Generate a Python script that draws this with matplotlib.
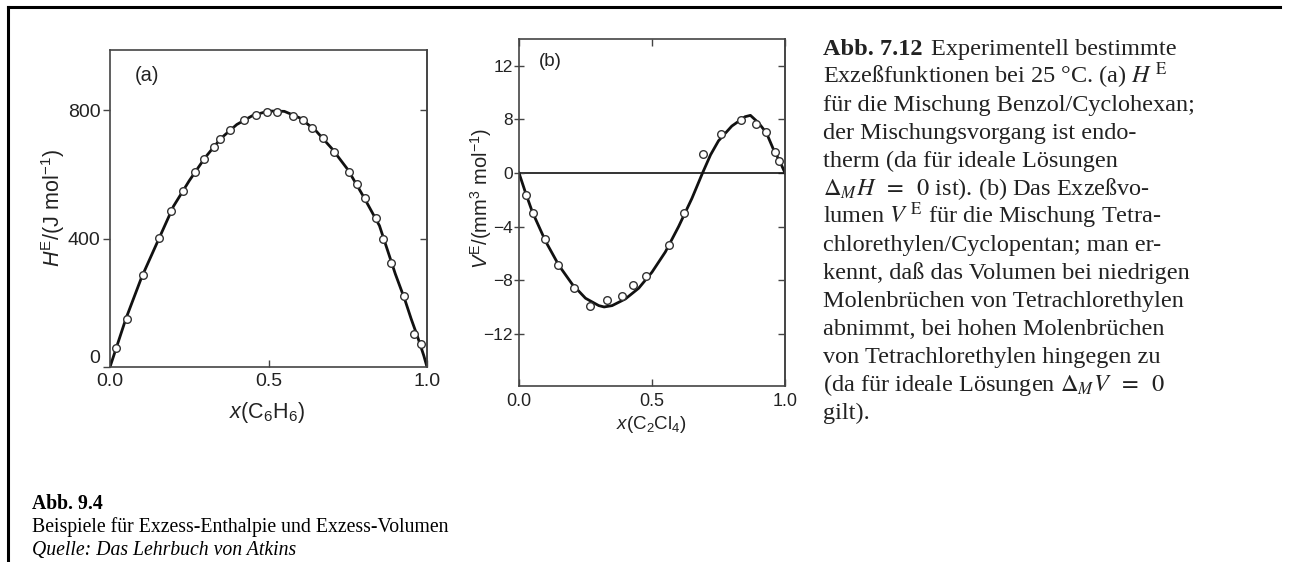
import numpy as np
import matplotlib
matplotlib.use("Agg")
import matplotlib.pyplot as plt
from matplotlib.lines import Line2D

# ---------------- data ----------------
# (a) H^E for benzene / cyclohexane
xa_pts = [0.019, 0.055, 0.105, 0.156, 0.192, 0.229, 0.268, 0.298, 0.329, 0.347,
          0.379, 0.424, 0.461, 0.496, 0.526, 0.578, 0.608, 0.636, 0.671, 0.708,
          0.755, 0.778, 0.804, 0.838, 0.860, 0.886, 0.928, 0.960, 0.981]
ya_pts = [60, 148, 288, 402, 486, 549, 608, 648, 685, 711,
          738, 769, 784, 795, 795, 781, 769, 743, 714, 670,
          608, 569, 525, 463, 400, 323, 221, 103, 72]
xa_curve = [0.00, 0.01, 0.02, 0.05, 0.10, 0.15, 0.20, 0.25, 0.30, 0.35, 0.40, 0.45,
            0.50, 0.55, 0.60, 0.65, 0.70, 0.75, 0.80, 0.85, 0.90, 0.93, 0.95, 0.97,
            0.99, 1.00]
ya_curve = [0, 30, 60, 150, 280, 390, 500, 580, 652, 712, 755, 783,
            797, 796, 775, 735, 680, 615, 530, 440, 290, 210, 150, 95,
            35, 0]

# (b) V^E for tetrachloroethylene / cyclopentane (values as read against the printed labels)
xb_pts = [0.026, 0.051, 0.098, 0.145, 0.207, 0.267, 0.332, 0.388, 0.430, 0.477,
          0.564, 0.620, 0.693, 0.758, 0.835, 0.891, 0.927, 0.962, 0.979]
yb_pts = [-1.64, -2.97, -4.93, -6.88, -8.57, -9.92, -9.50, -9.17, -8.33, -7.70,
          -5.38, -2.97, 2.84, 5.79, 7.93, 7.33, 6.18, 3.18, 1.79]
xb_curve = [0.0, 0.025, 0.05, 0.10, 0.15, 0.20, 0.25, 0.30, 0.32, 0.35, 0.40, 0.45,
            0.50, 0.55, 0.60, 0.65, 0.69, 0.72, 0.75, 0.80, 0.85, 0.87, 0.90, 0.93,
            0.96, 0.98, 1.0]
yb_curve = [0, -1.5, -2.9, -5.1, -6.9, -8.3, -9.35, -9.9, -10.0, -9.9, -9.4, -8.6,
            -7.4, -5.9, -4.0, -1.9, 0, 2.7, 4.8, 7.0, 8.2, 8.3, 7.5, 6.0,
            3.2, 1.8, 0]

xticks = [0.0, 0.5, 1.0]
ya_ticks = [0, 400, 800]
yb_ticks = [12, 8, 0, -4, -8, -12]

para_first_bold = "Abb. 7.12"
para_first_rest = "Experimentell bestimmte"
para_lines = [
    r"Exzeßfunktionen bei 25 °C. (a) $H^{\;\mathrm{E}}$",
    "für die Mischung Benzol/Cyclohexan;",
    "der Mischungsvorgang ist endo-",
    "therm (da für ideale Lösungen",
    r"$\Delta_{M}H\;\;=\;\;0$ ist). (b) Das Exzeßvo-",
    r"lumen $V^{\;\mathrm{E}}$ für die Mischung Tetra-",
    "chlorethylen/Cyclopentan; man er-",
    "kennt, daß das Volumen bei niedrigen",
    "Molenbrüchen von Tetrachlorethylen",
    "abnimmt, bei hohen Molenbrüchen",
    "von Tetrachlorethylen hingegen zu",
    r"(da für ideale Lösungen $\Delta_{M}V\;\;=\;\;0$",
    "gilt).",
]
caption_title = "Abb. 9.4"
caption_text = "Beispiele für Exzess-Enthalpie und Exzess-Volumen"
caption_source = "Quelle: Das Lehrbuch von Atkins"

# ---------------- style ----------------
plt.rcParams['font.family'] = ['Liberation Sans', 'DejaVu Sans']
plt.rcParams['mathtext.fontset'] = 'custom'
plt.rcParams['mathtext.rm'] = 'Liberation Sans'
plt.rcParams['mathtext.it'] = 'Liberation Sans:italic'
plt.rcParams['mathtext.bf'] = 'Liberation Sans:bold'

W, H = 1290, 562
fig = plt.figure(figsize=(W / 100, H / 100), dpi=100)


def rect(l, t, r, b):
    return [l / W, 1 - b / H, (r - l) / W, (b - t) / H]


frame_c = '#444444'
curve_c = '#111111'
txt_c = '#222222'

# ---------------- panel (a) ----------------
ax = fig.add_axes(rect(110, 50, 427, 367))
ax.plot(xa_curve, ya_curve, color=curve_c, lw=2.0, zorder=2)
ax.plot(xa_pts, ya_pts, 'o', ms=5.5, mfc='white', mec='#333333', mew=1.0, zorder=3)
ax.set_xlim(0, 1)
ax.set_ylim(0, 987)
ax.set_xticks(xticks)
ax.set_yticks(ya_ticks)
ax.tick_params(axis='x', direction='in', length=5, width=1, color=frame_c,
               labelsize=14, pad=4, labelcolor=txt_c)
ax.tick_params(axis='y', direction='out', length=5, width=1, color=frame_c,
               labelsize=14, pad=2, labelcolor=txt_c)
# the "0" label sits just above the corner, as in the reference
ax.yaxis.get_major_ticks()[0].label1.set_verticalalignment('bottom')
for s in ax.spines.values():
    s.set_color(frame_c)
    s.set_linewidth(1.2)
sec = ax.secondary_yaxis('right')
sec.set_yticks([400, 800])
sec.tick_params(direction='in', length=5, width=1, color=frame_c, labelright=False)
sec.spines['right'].set_color(frame_c)
sec.spines['right'].set_linewidth(1.2)
ax.set_ylabel(r"$H^{\mathrm{E}}$/(J mol$^{-1}$)", fontsize=15.5, color=txt_c)
ax.yaxis.set_label_coords(-0.135, 0.50)
ax.set_xlabel(r"$x$(C$_6$H$_6$)", fontsize=15.5, color=txt_c)
ax.xaxis.set_label_coords(0.496, -0.104)
ax.text(0.117, 0.921, "(a)", transform=ax.transAxes, fontsize=14.5,
        ha='center', va='center', color=txt_c)

# ---------------- panel (b) ----------------
def fwd(y):
    y = np.asarray(y, dtype=float)
    return np.where(y <= 0, y, np.where(y <= 8, y / 2.0, y - 4.0))


def inv(u):
    u = np.asarray(u, dtype=float)
    return np.where(u <= 0, u, np.where(u <= 4, u * 2.0, u + 4.0))


bx = fig.add_axes(rect(519, 39, 785, 386))
bx.set_yscale('function', functions=(fwd, inv))
bx.axhline(0, color=curve_c, lw=1.2, zorder=1)
bx.plot(xb_curve, yb_curve, color=curve_c, lw=2.0, zorder=2)
bx.plot(xb_pts, yb_pts, 'o', ms=5.5, mfc='white', mec='#333333', mew=1.0, zorder=3)
bx.set_xlim(0, 1)
bx.set_ylim(-15.9, 14)
bx.set_xticks(xticks)
bx.set_yticks(yb_ticks)
bx.yaxis.set_major_formatter(matplotlib.ticker.FuncFormatter(
    lambda v, p: ("%d" % round(v)).replace('-', '\u2212')))
bx.xaxis.set_major_formatter(matplotlib.ticker.FormatStrFormatter('%.1f'))
bx.tick_params(axis='x', direction='in', length=5, width=1, color=frame_c,
               labelsize=13, pad=5, top=True, labelcolor=txt_c)
bx.tick_params(axis='y', direction='inout', length=7, width=1, color=frame_c,
               labelsize=12.5, pad=1, labelcolor=txt_c)
for s in bx.spines.values():
    s.set_color(frame_c)
    s.set_linewidth(1.2)
secb = bx.secondary_yaxis('right', functions=(lambda v: v, lambda v: v))
secb.set_yscale('function', functions=(fwd, inv))
secb.set_yticks(yb_ticks)
secb.tick_params(direction='in', length=5, width=1, color=frame_c, labelright=False)
secb.spines['right'].set_color(frame_c)
secb.spines['right'].set_linewidth(1.2)
bx.set_ylabel(r"$V^{\mathrm{E}}$/(mm$^3$ mol$^{-1}$)", fontsize=14.5, color=txt_c)
bx.yaxis.set_label_coords(-0.094, 0.54)
bx.set_xlabel(r"$x$(C$_2$Cl$_4$)", fontsize=13.5, color=txt_c)
bx.xaxis.set_label_coords(0.496, -0.081)
bx.text(0.117, 0.934, "(b)", transform=bx.transAxes, fontsize=13.5,
        ha='center', va='center', color=txt_c)

# ---------------- paragraph text ----------------
serif = ['Liberation Serif', 'DejaVu Serif']
px = 823 / W
base0 = 55
step = 28
pfs = 17.5
t1 = fig.text(px, 1 - base0 / H, para_first_bold, family=serif, weight='bold',
              fontsize=pfs, va='baseline', ha='left', color=txt_c)
fig.add_artist(plt.Annotation(para_first_rest, xy=(1, 0), xycoords=t1,
                              xytext=(6, 0), textcoords='offset points',
                              family=serif, fontsize=pfs, va='bottom', ha='left',
                              color=txt_c))
for i, line in enumerate(para_lines):
    fig.text(px, 1 - (base0 + step * (i + 1)) / H, line, family=serif,
             fontsize=pfs, va='baseline', ha='left', math_fontfamily='stix',
             color=txt_c)

# ---------------- caption ----------------
cx = 32 / W
cfs = 14.2
fig.text(cx, 1 - 509 / H, caption_title, family=serif, weight='bold',
         fontsize=cfs, va='baseline')
fig.text(cx, 1 - 532 / H, caption_text, family=serif, fontsize=cfs, va='baseline')
fig.text(cx, 1 - 555 / H, caption_source, family=serif, style='italic',
         fontsize=cfs, va='baseline')

# ---------------- page border ----------------
fig.add_artist(Line2D([8 / W, 1280 / W], [1 - 7 / H, 1 - 7 / H],
                      transform=fig.transFigure, color='black', lw=2.2))
fig.add_artist(Line2D([8 / W, 8 / W], [0, 1 - 7 / H],
                      transform=fig.transFigure, color='black', lw=2.2))

fig.savefig("out.png", dpi=100)
